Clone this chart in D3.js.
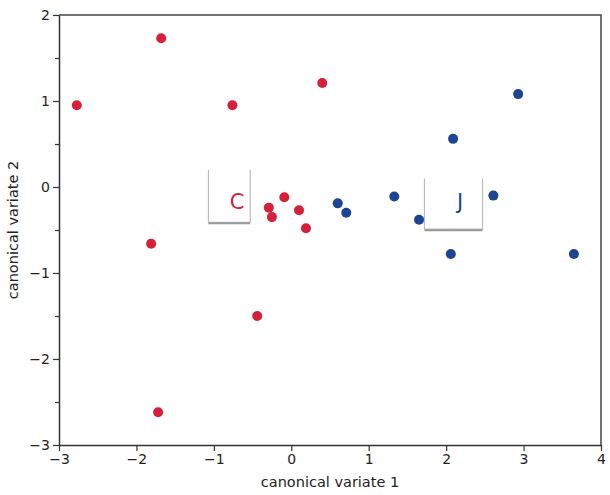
<!DOCTYPE html>
<html>
<head>
<meta charset="utf-8">
<script src="https://cdn.jsdelivr.net/npm/d3@7"></script>
<style>
  body { margin: 0; background: #fff; }
  text { font-family: "DejaVu Sans", sans-serif; }
</style>
</head>
<body>
<div id="chart"></div>
<script>
// group C (red) points
var cX = [-2.77, -1.68, -0.76, 0.40, -0.29, -0.25, -0.09, 0.10, 0.19, -1.81, -0.44, -1.72];
var cY = [0.95, 1.73, 0.95, 1.21, -0.24, -0.35, -0.12, -0.27, -0.48, -0.66, -1.50, -2.62];
// group J (blue) points
var jX = [0.60, 0.71, 1.33, 1.65, 2.09, 2.93, 2.61, 2.06, 3.65];
var jY = [-0.19, -0.30, -0.11, -0.38, 0.56, 1.08, -0.10, -0.78, -0.78];

var xTicks = [-3, -2, -1, 0, 1, 2, 3, 4];
var yTicks = [-3, -2, -1, 0, 1, 2];
var yMinor = [-2.5, -1.5, -0.5, 0.5, 1.5];

// group labels: text position and box corners in data units
var groupLabels = [
  {name: "C", x: -0.70, y: -0.25, x0: -1.07, x1: -0.53, y0: 0.2, y1: -0.41, color: "#d6203a"},
  {name: "J", x: 2.18, y: -0.25, x0: 1.72, x1: 2.47, y0: 0.10, y1: -0.49, color: "#1d4594"}
];

var margin = {top: 15, right: 9, bottom: 50, left: 59},
    width = 610 - margin.left - margin.right,
    height = 495 - margin.top - margin.bottom;

var svg = d3.select("#chart")
  .append("svg")
    .attr("width", 610)
    .attr("height", 495)
  .append("g")
    .attr("transform", "translate(" + margin.left + "," + margin.top + ")");

var x = d3.scaleLinear().domain([-3, 4]).range([0, width]);
var y = d3.scaleLinear().domain([-3, 2]).range([height, 0]);

// frame (top + right)
svg.append("path")
  .attr("d", "M0,0H" + width + "V" + height)
  .style("fill", "none")
  .style("stroke", "#444")
  .style("stroke-width", 1.5);

// X axis
svg.append("g")
  .attr("transform", "translate(0," + height + ")")
  .call(d3.axisBottom(x).tickValues(xTicks).tickSize(6).tickSizeOuter(0).tickPadding(3).tickFormat(d3.format("d")));
// Y axis
svg.append("g")
  .call(d3.axisLeft(y).tickValues(yTicks).tickSize(6).tickSizeOuter(0).tickPadding(3).tickFormat(d3.format("d")));
svg.append("g")
  .call(d3.axisLeft(y).tickValues(yMinor).tickSize(4).tickSizeOuter(0).tickFormat(""))
  .select(".domain").remove();

svg.selectAll(".domain").style("stroke", "#333").style("stroke-width", 1.5);
svg.selectAll(".tick line").style("stroke", "#333").style("stroke-width", 1.2);
svg.selectAll(".tick text").style("font-size", "14px").style("fill", "#222")
  .style("font-family", "DejaVu Sans, sans-serif");

// axis titles
svg.append("text")
  .attr("x", width / 2)
  .attr("y", height + 42)
  .style("text-anchor", "middle")
  .style("font-size", "14.5px")
  .style("fill", "#222")
  .text("canonical variate 1");

svg.append("text")
  .attr("transform", "translate(" + (-41) + "," + (height / 2) + ") rotate(-90)")
  .style("text-anchor", "middle")
  .style("font-size", "14.5px")
  .style("fill", "#222")
  .text("canonical variate 2");

// label boxes
var lab = svg.append("g").selectAll("g")
  .data(groupLabels).enter()
  .append("g");
lab.append("path")
  .attr("d", function(d) {
    return "M" + x(d.x0) + "," + y(d.y0) + "V" + y(d.y1) + "H" + x(d.x1) + "V" + y(d.y0);
  })
  .style("fill", "none")
  .style("stroke", "#bbb")
  .style("stroke-width", 1.2);
lab.append("path")
  .attr("d", function(d) {
    return "M" + x(d.x0) + "," + (y(d.y1) + 1) + "H" + x(d.x1);
  })
  .style("fill", "none")
  .style("stroke", "#999")
  .style("stroke-width", 2);
lab.append("text")
  .attr("x", function(d) { return x(d.x); })
  .attr("y", function(d) { return y(d.y); })
  .style("text-anchor", "middle")
  .style("font-size", "21px")
  .style("fill", function(d) { return d.color; })
  .text(function(d) { return d.name; });

// dots
var cData = cX.map(function(v, i) { return [v, cY[i]]; });
var jData = jX.map(function(v, i) { return [v, jY[i]]; });

svg.append("g").selectAll("circle")
  .data(cData).enter()
  .append("circle")
    .attr("cx", function(d) { return x(d[0]); })
    .attr("cy", function(d) { return y(d[1]); })
    .attr("r", 5)
    .style("fill", "#d6203a");

svg.append("g").selectAll("circle")
  .data(jData).enter()
  .append("circle")
    .attr("cx", function(d) { return x(d[0]); })
    .attr("cy", function(d) { return y(d[1]); })
    .attr("r", 5)
    .style("fill", "#1d4594");
</script>
</body>
</html>
